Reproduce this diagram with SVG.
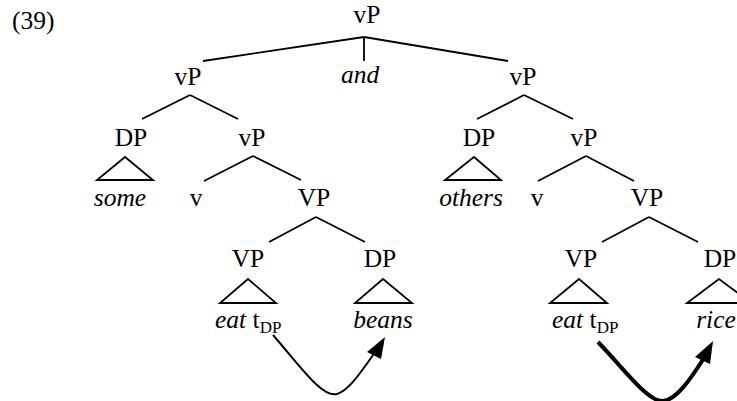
<svg xmlns="http://www.w3.org/2000/svg" width="737" height="401" viewBox="0 0 737 401">
<style>
text{font-family:"Liberation Serif","Times New Roman",serif;font-size:25.5px;fill:#000;text-anchor:middle}
.it{font-style:italic}
.st{text-anchor:start}
.sub{font-size:17px;font-style:normal}
.e{stroke:#000;stroke-width:1.8;fill:none;stroke-linecap:butt}
.tri{stroke:#000;stroke-width:1.8;fill:none;stroke-linejoin:miter}
.mv{stroke:#000;fill:none}
</style>
<rect width="737" height="401" fill="#fff"/>
<text x="12" y="29" class="st">(39)</text>
<g id="connectors">
<path class="e" d="M364,37 L203,61 M364,37 L364,61 M364,37 L508,61"/>
<path class="e" d="M190,95 L142,119 M190,95 L238,119"/>
<path class="e" d="M524,95 L477,119 M524,95 L573,119"/>
<path class="e" d="M253,156 L204,181 M253,156 L301,180"/>
<path class="e" d="M586,156 L538,181 M586,156 L634,181"/>
<path class="e" d="M316,217 L269,242 M316,217 L365,242"/>
<path class="e" d="M649,217 L602,242 M649,217 L698,242"/>
<path class="mv" stroke-width="2" d="M273,335 C300,366 322,398 337,394 C350,390 362,370 376,351"/>
<polygon points="385,337 367,352 381,359" fill="#000"/>
<path class="mv" stroke-width="4" d="M598,342 C625,370 648,402 663,401 C676,400 690,380 704,358"/>
<polygon points="713,341 695,357 710,364" fill="#000"/>
</g>
<g id="n-vP-root"><text x="367" y="23">vP</text></g>
<g id="n-vP-left"><text x="188" y="85">vP</text></g>
<g id="n-and"><text x="360" y="83" class="it">and</text></g>
<g id="n-vP-right"><text x="523" y="85">vP</text></g>
<g id="n-DP-some"><text x="131" y="146">DP</text><polygon class="tri" points="125,157 97,180 153,180"/><text x="120" y="206" class="it">some</text></g>
<g id="n-vP-left2"><text x="252" y="146">vP</text></g>
<g id="n-v-left"><text x="196" y="206">v</text></g>
<g id="n-VP-left"><text x="314" y="206">VP</text></g>
<g id="n-VP-eat-left"><text x="248" y="267">VP</text><polygon class="tri" points="248,279 220,303 276,303"/><text x="215" y="328" class="st"><tspan class="it">eat</tspan> t<tspan class="sub" dy="5">DP</tspan></text></g>
<g id="n-DP-beans"><text x="380" y="267">DP</text><polygon class="tri" points="383,279 355,303 412,303"/><text x="383" y="328" class="it">beans</text></g>
<g id="n-DP-others"><text x="479" y="146">DP</text><polygon class="tri" points="474,157 445,180 501,180"/><text x="471" y="206" class="it">others</text></g>
<g id="n-vP-right2"><text x="584" y="146">vP</text></g>
<g id="n-v-right"><text x="537" y="206">v</text></g>
<g id="n-VP-right"><text x="647" y="206">VP</text></g>
<g id="n-VP-eat-right"><text x="581" y="267">VP</text><polygon class="tri" points="579,279 550,303 607,303"/><text x="552" y="328" class="st"><tspan class="it">eat</tspan> t<tspan class="sub" dy="5">DP</tspan></text></g>
<g id="n-DP-rice"><text x="720" y="267">DP</text><polygon class="tri" points="719,279 687,303 751,303"/><text x="716" y="328" class="it">rice</text></g>
</svg>
